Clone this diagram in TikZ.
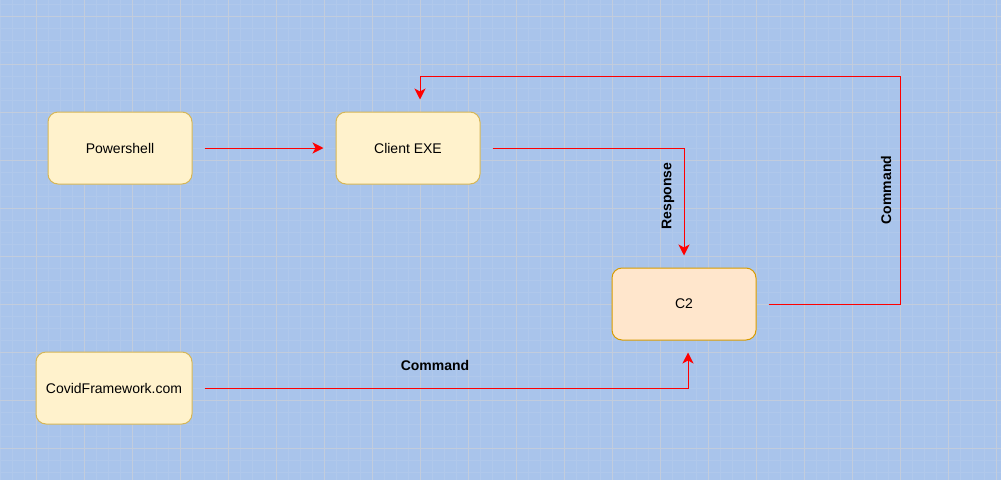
\documentclass[tikz,border=0pt]{standalone}
\usepackage{fontspec}
\setmainfont{Liberation Sans}
\usetikzlibrary{arrows.meta}
\definecolor{bgblue}{HTML}{A9C4EB}
\definecolor{minorgrid}{HTML}{B0C8EB}
\definecolor{majorgrid}{HTML}{C2CCDC}
\definecolor{yfill}{HTML}{FFF2CC}
\definecolor{ystroke}{HTML}{D6B656}
\definecolor{ofill}{HTML}{FFE6CC}
\definecolor{ostroke}{HTML}{D79B00}
\definecolor{arrowred}{HTML}{FF0000}
\begin{document}
\begin{tikzpicture}[x=1pt,y=-1pt,
  box/.style={draw=ystroke, fill=yfill, line width=1pt, rounded corners=10pt, minimum width=144pt, minimum height=72pt, font=\fontsize{14}{16}\selectfont, inner sep=0pt},
  obox/.style={box, draw=ostroke, fill=ofill},
  conn/.style={draw=arrowred, line width=1pt, -{Stealth[length=11pt,width=11pt,inset=3pt]}},
  lbl/.style={font=\bfseries\fontsize{14}{16}\selectfont, inner sep=0pt}]
\useasboundingbox (0,0) rectangle (1001,480);
\fill[bgblue] (0,0) rectangle (1001,480);
\foreach \x in {0,12,...,996} \draw[minorgrid, line width=0.8pt] (\x,0) -- (\x,480);
\foreach \y in {4,16,...,480} \draw[minorgrid, line width=0.8pt] (0,\y) -- (1001,\y);
\foreach \x in {36,84,...,996} \draw[majorgrid, line width=1pt] (\x,0) -- (\x,480);
\foreach \y in {16,64,...,480} \draw[majorgrid, line width=1pt] (0,\y) -- (1001,\y);

\node[box] (ps) at (120,148) {Powershell};
\node[box] (cl) at (408,148) {Client EXE};
\node[obox] (c2) at (684,304) {C2};
\node[box, minimum width=156pt] (cv) at (114,388) {CovidFramework.com};

\coordinate (a1) at (900,304);
\coordinate (a2) at (900,76);
\coordinate (a3) at (420,76);

\draw[conn] ([xshift=12pt]ps.east) -- ([xshift=-12pt]cl.west);
\draw[conn] ([xshift=12pt]cl.east) -| ([yshift=12pt]c2.north);
\draw[conn] ([xshift=12pt]c2.east) -- (a1) -- (a2) -- (a3) -- ([xshift=12pt,yshift=12pt]cl.north);
\draw[conn] ([xshift=12pt]cv.east) -| ([xshift=4pt,yshift=-12pt]c2.south);

\node[lbl, rotate=90] (r) at (668,196) {Response};
\node[lbl, rotate=90] (c1) at (886,190) {Command};
\node[lbl] (c3) at (435,365) {Command};
\end{tikzpicture}
\end{document}
